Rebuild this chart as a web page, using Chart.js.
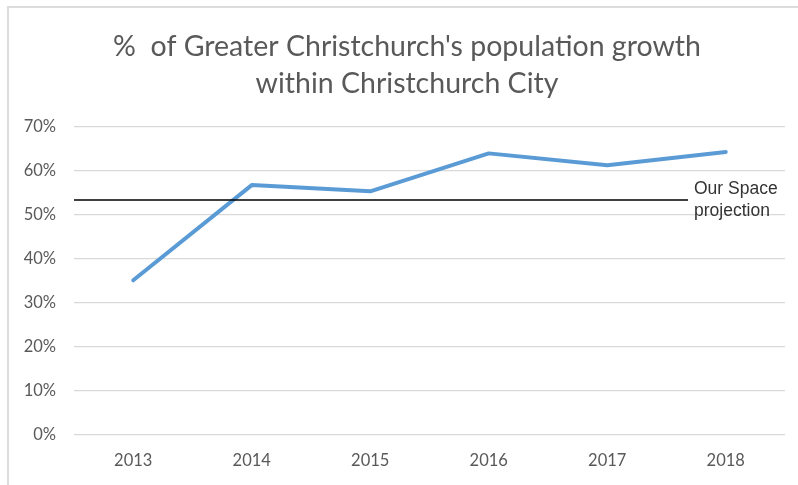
<!DOCTYPE html>
<html>
<head>
<meta charset="utf-8">
<script src="https://cdn.jsdelivr.net/npm/chart.js@4"></script>
<style>
  html, body { margin: 0; padding: 0; background: #ffffff; }
  #wrap { position: relative; width: 798px; height: 485px; }
  #frame {
    position: absolute; left: 7px; top: 6px; right: 0; bottom: 0;
    border-top: 2px solid #dcdcdc; border-left: 2px solid #dcdcdc;
  }
  canvas { position: absolute; left: 0; top: 0; }
</style>
</head>
<body>
<div id="wrap">
  <div id="frame"></div>
  <canvas id="chart" width="798" height="485"></canvas>
</div>
<script>
// Years shown on the horizontal axis
const years = ['2013', '2014', '2015', '2016', '2017', '2018'];
// Share of Greater Christchurch population growth occurring within Christchurch City (%)
const cityShare = [35.1, 56.7, 55.3, 63.9, 61.2, 64.2];
// Our Space projected share (%)
const projectionShare = [53.3];
const projectionLabel = ['Our Space', 'projection'];
const titleLines = ["%  of Greater Christchurch's population growth", 'within Christchurch City'];

// Two-line chart heading, centred above the plot
const heading = {
  id: 'heading',
  afterDraw(chart, args, opts) {
    const { ctx } = chart;
    ctx.save();
    ctx.fillStyle = '#595959';
    ctx.font = opts.font;
    ctx.textAlign = 'center';
    ctx.textBaseline = 'middle';
    titleLines.forEach((t, i) => ctx.fillText(t, opts.x, opts.y + i * opts.lineGap));
    ctx.restore();
  }
};

// Horizontal reference line with a two-line caption at its right end
const projectionLine = {
  id: 'projectionLine',
  afterDatasetsDraw(chart, args, opts) {
    const { ctx, chartArea, scales } = chart;
    const y = scales.y.getPixelForValue(projectionShare[0]);
    const x1 = chartArea.right - opts.gap;
    ctx.save();
    ctx.strokeStyle = '#000000';
    ctx.lineWidth = 1.5;
    ctx.beginPath();
    ctx.moveTo(chartArea.left, y);
    ctx.lineTo(x1, y);
    ctx.stroke();
    ctx.fillStyle = '#333333';
    ctx.font = '17.5px "Liberation Sans", Arial, sans-serif';
    ctx.textAlign = 'left';
    ctx.textBaseline = 'middle';
    ctx.fillText(projectionLabel[0], x1 + 6, y - 11);
    ctx.fillText(projectionLabel[1], x1 + 6, y + 11);
    ctx.restore();
  }
};

const tickFont = { family: 'Lato, "Open Sans", sans-serif', size: 16.5 };

new Chart(document.getElementById('chart'), {
  type: 'line',
  data: {
    labels: years,
    datasets: [{
      data: cityShare,
      borderColor: '#5b9bd5',
      borderWidth: 4,
      borderJoinStyle: 'round',
      borderCapStyle: 'round',
      pointRadius: 0,
      tension: 0,
      fill: false
    }]
  },
  options: {
    responsive: false,
    animation: false,
    layout: { padding: { left: 0, right: 13, top: 126.5, bottom: 0 } },
    plugins: {
      legend: { display: false },
      tooltip: { enabled: false },
      title: { display: false },
      heading: { font: '28.5px Lato, "Open Sans", sans-serif', x: 407, y: 47, lineGap: 37 },
      projectionLine: { gap: 97 }
    },
    scales: {
      x: {
        offset: true,
        grid: { display: false, drawTicks: false },
        border: { display: false },
        ticks: { color: '#595959', font: tickFont, padding: 16 },
        afterFit(scale) { scale.height = 50; }
      },
      y: {
        min: 0,
        max: 70,
        grid: { color: '#d9d9d9', lineWidth: 1.3, drawTicks: false },
        border: { display: false },
        ticks: {
          stepSize: 10,
          color: '#595959',
          font: tickFont,
          padding: 18,
          callback: v => v + '%'
        },
        afterFit(scale) { scale.width = 74; }
      }
    }
  },
  plugins: [heading, projectionLine]
});
</script>
</body>
</html>
